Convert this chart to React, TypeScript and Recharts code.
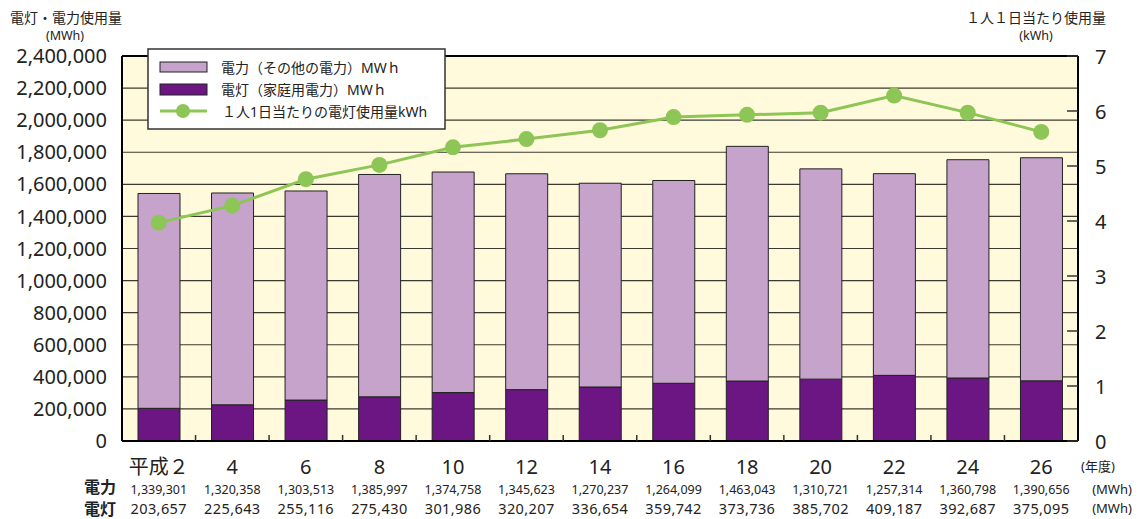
import React from 'react';
import {
  ComposedChart,
  Bar,
  Line,
  XAxis,
  YAxis,
  CartesianGrid,
  ReferenceLine,
} from 'recharts';

// Fiscal years (Heisei era)
const years = ['平成２', '4', '6', '8', '10', '12', '14', '16', '18', '20', '22', '24', '26'];
// 電力 (その他の電力) MWh
const powerMWh = [
  1339301, 1320358, 1303513, 1385997, 1374758, 1345623, 1270237,
  1264099, 1463043, 1310721, 1257314, 1360798, 1390656,
];
// 電灯 (家庭用電力) MWh
const lightMWh = [
  203657, 225643, 255116, 275430, 301986, 320207, 336654,
  359742, 373736, 385702, 409187, 392687, 375095,
];
// 1人1日当たりの電灯使用量 kWh
const perCapitaKWh = [3.97, 4.28, 4.76, 5.02, 5.34, 5.49, 5.65, 5.89, 5.93, 5.97, 6.28, 5.97, 5.62];

const leftTicks = [
  0, 200000, 400000, 600000, 800000, 1000000, 1200000,
  1400000, 1600000, 1800000, 2000000, 2200000, 2400000,
];
const rightTicks = [0, 1, 2, 3, 4, 5, 6, 7];

const data = years.map((year, i) => ({
  year,
  power: powerMWh[i],
  light: lightMWh[i],
  perCapita: perCapitaKWh[i],
}));

const W = 1139;
const H = 519;
const MARGIN = { top: 56, right: 6, bottom: 8, left: 12 };
const LEFT_AXIS_W = 110;
const RIGHT_AXIS_W = 55;
const X_AXIS_H = 70;
const PLOT_W = W - MARGIN.left - MARGIN.right - LEFT_AXIS_W - RIGHT_AXIS_W;
const HALF_BAND = PLOT_W / years.length / 2;
const RIGHT_TICK_GAP = 17;

const FONT = '"Noto Sans", "Noto Sans CJK JP", sans-serif';
const TEXT = '#222';
const POWER_COLOR = '#C5A3CB';
const LIGHT_COLOR = '#6B1683';
const LINE_COLOR = '#8DC556';
const PLOT_BG = '#FFFADB';

const fmt = (v: number) => v.toLocaleString('en-US');

// Category tick: year label, boundary tick mark and the two data-table rows
function YearTick(props: any) {
  const { x, y, payload } = props;
  const i = payload.index as number;
  return (
    <g>
      {i < years.length - 1 && (
        <line
          x1={x + HALF_BAND}
          x2={x + HALF_BAND}
          y1={y}
          y2={y - 6}
          stroke="#333"
          strokeWidth={1.5}
        />
      )}
      <text x={x} y={y + 25} textAnchor="middle" dominantBaseline="central" fontSize={20} fill={TEXT}>
        {payload.value}
      </text>
      <text x={x} y={y + 48} textAnchor="middle" dominantBaseline="central" fontSize={12.5} fill={TEXT}>
        {fmt(powerMWh[i])}
      </text>
      <text
        x={x}
        y={y + 67}
        textAnchor="middle"
        dominantBaseline="central"
        fontSize={14.5}
        letterSpacing={0.4}
        fill={TEXT}
      >
        {fmt(lightMWh[i])}
      </text>
    </g>
  );
}

// Right-axis tick with a short inward mark
function RightTick(props: any) {
  const { x, y, payload } = props;
  return (
    <g>
      <line
        x1={x - RIGHT_TICK_GAP - 11}
        x2={x - RIGHT_TICK_GAP}
        y1={y}
        y2={y}
        stroke="#333"
        strokeWidth={1.5}
      />
      <text x={x} y={y} dominantBaseline="central" fontSize={20} fill={TEXT}>
        {payload.value}
      </text>
    </g>
  );
}

function Overlay() {
  return (
    <svg
      width={W}
      height={H}
      style={{ position: 'absolute', left: 0, top: 0, pointerEvents: 'none', fontFamily: FONT }}
    >
      {/* axis titles */}
      <text x={66} y={17} textAnchor="middle" dominantBaseline="central" fontSize={14} fill={TEXT}>
        電灯・電力使用量
      </text>
      <text x={65} y={35} textAnchor="middle" dominantBaseline="central" fontSize={12.5} fill={TEXT}>
        (MWh)
      </text>
      <text x={1036} y={17} textAnchor="middle" dominantBaseline="central" fontSize={14} fill={TEXT}>
        １人１日当たり使用量
      </text>
      <text x={1036} y={35} textAnchor="middle" dominantBaseline="central" fontSize={12.5} fill={TEXT}>
        (kWh)
      </text>

      {/* table row headers and units */}
      <text x={1098} y={466} textAnchor="middle" dominantBaseline="central" fontSize={13} fill={TEXT}>
        (年度)
      </text>
      <text x={100} y={487} textAnchor="middle" dominantBaseline="central" fontSize={16} fontWeight="bold" fill={TEXT}>
        電力
      </text>
      <text x={100} y={509} textAnchor="middle" dominantBaseline="central" fontSize={16} fontWeight="bold" fill={TEXT}>
        電灯
      </text>
      <text x={1112} y={489} textAnchor="middle" dominantBaseline="central" fontSize={13} fill={TEXT}>
        (MWh)
      </text>
      <text x={1112} y={508} textAnchor="middle" dominantBaseline="central" fontSize={13} fill={TEXT}>
        (MWh)
      </text>

      {/* legend */}
      <rect x={148} y={49} width={297} height={80} fill="#fff" stroke="#333" strokeWidth={1.5} />
      <rect x={160} y={62} width={47} height={10} fill={POWER_COLOR} stroke="#222" strokeWidth={1} />
      <text x={221} y={67} dominantBaseline="central" fontSize={14} fill={TEXT}>
        電力（その他の電力）MWｈ
      </text>
      <rect x={160} y={84} width={47} height={11} fill={LIGHT_COLOR} stroke="#222" strokeWidth={1} />
      <text x={221} y={89} dominantBaseline="central" fontSize={14} fill={TEXT}>
        電灯（家庭用電力）MWｈ
      </text>
      <line x1={160} x2={207} y1={111} y2={111} stroke={LINE_COLOR} strokeWidth={3} />
      <circle cx={183} cy={111} r={7} fill={LINE_COLOR} />
      <text x={222} y={111} dominantBaseline="central" fontSize={14} fill={TEXT}>
        １人1日当たりの電灯使用量kWh
      </text>
    </svg>
  );
}

export default function App() {
  return (
    <div style={{ position: 'absolute', left: 0, top: 0, width: W, height: H, background: '#fff', fontFamily: FONT }}>
      <ComposedChart width={W} height={H} data={data} margin={MARGIN} barSize={42}>
        <CartesianGrid
          yAxisId="left"
          vertical={false}
          stroke="#3a3a33"
          strokeWidth={1.2}
          fill={PLOT_BG}
          fillOpacity={1}
        />
        <XAxis
          dataKey="year"
          height={X_AXIS_H}
          tickSize={0}
          tickMargin={0}
          tickLine={false}
          axisLine={{ stroke: '#000', strokeWidth: 2 }}
          tick={<YearTick />}
          interval={0}
        />
        <YAxis
          yAxisId="left"
          width={LEFT_AXIS_W}
          domain={[0, 2400000]}
          ticks={leftTicks}
          tickFormatter={fmt}
          tickSize={0}
          tickMargin={15}
          tickLine={false}
          axisLine={{ stroke: '#000', strokeWidth: 2 }}
          tick={{ fontSize: 20, fill: TEXT }}
          interval={0}
        />
        <YAxis
          yAxisId="right"
          orientation="right"
          width={RIGHT_AXIS_W}
          domain={[0, 7]}
          ticks={rightTicks}
          tickSize={0}
          tickMargin={RIGHT_TICK_GAP}
          tickLine={false}
          axisLine={{ stroke: '#000', strokeWidth: 2 }}
          tick={<RightTick />}
          interval={0}
        />
        <ReferenceLine yAxisId="left" y={2400000} stroke="#000" strokeWidth={2} />
        <Bar
          yAxisId="left"
          dataKey="light"
          stackId="usage"
          fill={LIGHT_COLOR}
          stroke="#222"
          strokeWidth={1}
          isAnimationActive={false}
        />
        <Bar
          yAxisId="left"
          dataKey="power"
          stackId="usage"
          fill={POWER_COLOR}
          stroke="#222"
          strokeWidth={1}
          isAnimationActive={false}
        />
        <Line
          yAxisId="right"
          dataKey="perCapita"
          stroke={LINE_COLOR}
          strokeWidth={3}
          dot={{ r: 8, fill: LINE_COLOR, stroke: 'none' }}
          activeDot={false}
          isAnimationActive={false}
        />
      </ComposedChart>
      <Overlay />
    </div>
  );
}
